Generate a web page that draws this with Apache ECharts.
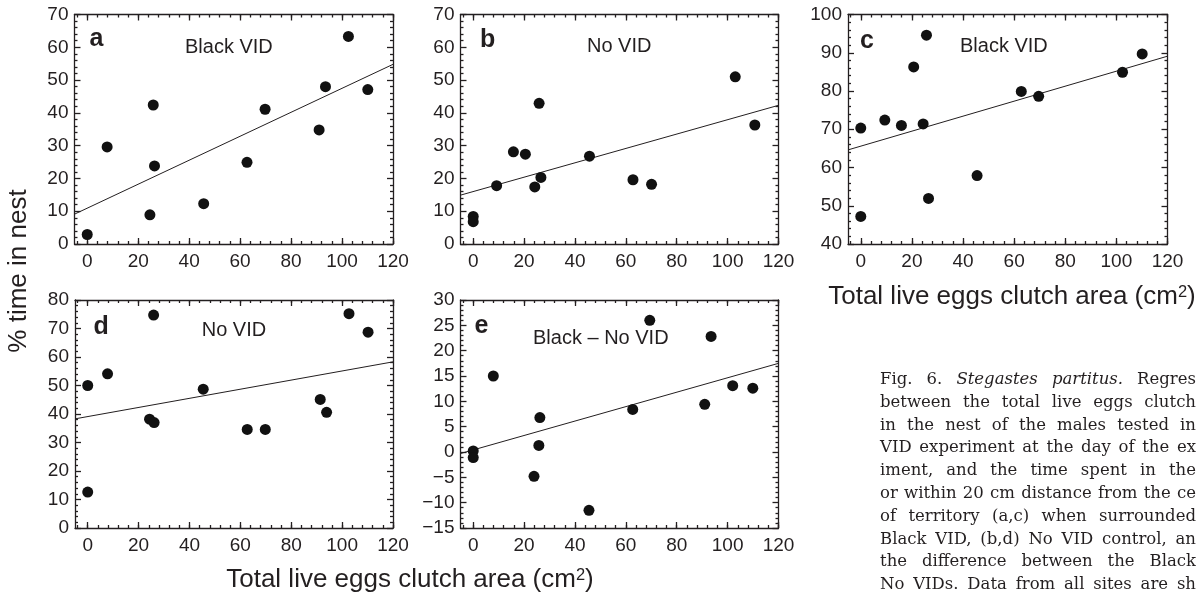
<!DOCTYPE html>
<html>
<head>
<meta charset="utf-8">
<title>Fig. 6 Stegastes partitus</title>
<script src="https://cdn.jsdelivr.net/npm/echarts@6.0.0/dist/echarts.min.js"></script>
<style>
  html, body { margin: 0; padding: 0; background: #fff; overflow: hidden; }
  #chart { width: 1196px; height: 598px; }
  #caption {
    position: absolute; left: 880px; top: 368px; width: 316px;
    font-family: 'DejaVu Serif', serif; font-size: 16.5px; color: #231f20;
  }
  #caption div { height: 22.8px; line-height: 22.8px; text-align: justify; text-align-last: justify; }
</style>
</head>
<body>
<div id="chart"></div>
<div id="caption">
  <div>Fig. 6. <i>Stegastes partitus.</i> Regres</div>
  <div>between the total live eggs clutch</div>
  <div>in the nest of the males tested in</div>
  <div>VID experiment at the day of the ex</div>
  <div>iment, and the time spent in the</div>
  <div>or within 20 cm distance from the ce</div>
  <div>of territory (a,c) when surrounded</div>
  <div>Black VID, (b,d) No VID control, an</div>
  <div>the difference between the Black</div>
  <div>No VIDs. Data from all sites are sh</div>
</div>
<script>
// clutch area (cm2) vs % time in nest
const aX = [0, 7.8, 24.6, 25.9, 26.4, 45.7, 62.7, 69.8, 91.0, 93.5, 102.5, 110.1]
const aY = [2.9, 29.6, 8.9, 42.4, 23.8, 12.3, 24.9, 41.1, 34.8, 48.0, 63.3, 47.1]
const aFit = [[-5, 9.1], [120, 54.8]]

const bX = [0, 0, 9.2, 15.8, 20.5, 24.2, 25.9, 26.6, 45.7, 62.8, 70.1, 103.0, 110.7]
const bY = [8.4, 6.8, 17.8, 28.1, 27.4, 17.4, 42.9, 20.3, 26.8, 19.6, 18.2, 51.0, 36.3]
const bFit = [[-5, 14.9], [120, 42.3]]

const cX = [0, 0, 9.4, 15.9, 20.7, 24.4, 25.7, 26.5, 45.5, 62.8, 69.6, 102.4, 110.1]
const cY = [70.3, 47.2, 72.4, 71.0, 86.3, 71.4, 94.6, 51.9, 57.9, 79.9, 78.6, 84.9, 89.7]
const cFit = [[-5, 64.6], [120, 89.1]]

const dX = [0, 0, 7.8, 24.3, 26.1, 25.9, 45.4, 62.7, 69.8, 91.4, 93.9, 102.7, 110.2]
const dY = [50.0, 12.6, 54.1, 38.2, 37.0, 74.7, 48.7, 34.6, 34.6, 45.1, 40.6, 75.2, 68.7]
const dFit = [[-5, 38.3], [120, 58.3]]

const eX = [0, 0, 7.9, 23.9, 25.8, 26.2, 45.5, 62.7, 69.4, 91.0, 93.5, 102.0, 109.9]
const eY = [0.2, -1.1, 15.0, -4.8, 1.3, 6.8, -11.5, 8.4, 26.0, 9.4, 22.8, 13.1, 12.6]
const eFit = [[-5, -0.3], [120, 17.5]]

const xTickLabels = [0, 20, 40, 60, 80, 100, 120]
const panelLetters = ['a', 'b', 'c', 'd', 'e']
const panelNames = ['Black VID', 'No VID', 'Black VID', 'No VID', 'Black \u2013 No VID']
const yRanges = [[0, 70, 10], [0, 70, 10], [40, 100, 10], [0, 80, 10], [-15, 30, 5]]

const INK = '#231f20'
const SANS = '"Liberation Sans", Arial, Helvetica, sans-serif'

// minor x ticks every 4 units
const xMinorTicks = []
for (let v = -4; v <= 120; v += 4) xMinorTicks.push(v)

const panels = [
  { xs: aX, ys: aY, fit: aFit, box: { left: 74.5, top: 14.5, width: 318.5, height: 229.5 }, letter: [89.5, 39.3], name: [185, 47] },
  { xs: bX, ys: bY, fit: bFit, box: { left: 460.5, top: 14.5, width: 318, height: 229.5 }, letter: [480, 40.6], name: [587, 46] },
  { xs: cX, ys: cY, fit: cFit, box: { left: 848, top: 14.5, width: 319.5, height: 229.5 }, letter: [860, 41.3], name: [960, 46.7] },
  { xs: dX, ys: dY, fit: dFit, box: { left: 75, top: 300, width: 318, height: 228 }, letter: [93.5, 327.3], name: [201.7, 330.7] },
  { xs: eX, ys: eY, fit: eFit, box: { left: 460.5, top: 300, width: 318, height: 228 }, letter: [474.5, 326.3], name: [533, 338.3] },
]

const line = { color: INK, width: 1.3 }
const grid = [], xAxis = [], yAxis = [], series = [], graphic = []

panels.forEach((p, i) => {
  grid.push({ ...p.box, outerBoundsMode: 'none' })

  const xBase = {
    gridIndex: i, type: 'value', min: -5, max: 120,
    splitLine: { show: false }, axisLine: { show: false, onZero: false },
    axisLabel: { show: false }, axisTick: { show: false },
  }
  const major = { show: true, inside: true, length: 6, customValues: xTickLabels, lineStyle: line }
  const minor = { show: true, inside: true, length: 3, customValues: xMinorTicks, lineStyle: line }
  xAxis.push(
    { ...xBase, position: 'bottom', axisLine: { show: true, onZero: false, lineStyle: line }, axisTick: major,
      axisLabel: { show: true, customValues: xTickLabels, color: INK, fontFamily: SANS, fontSize: 19, margin: 8 } },
    { ...xBase, position: 'bottom', axisTick: minor },
    { ...xBase, position: 'top', axisLine: { show: true, onZero: false, lineStyle: line }, axisTick: major },
    { ...xBase, position: 'top', axisTick: minor },
  )

  const [yMin, yMax, yStep] = yRanges[i]
  const yBase = {
    gridIndex: i, type: 'value', min: yMin, max: yMax, interval: yStep,
    splitLine: { show: false },
    axisLine: { show: true, onZero: false, lineStyle: line },
    axisTick: { show: true, inside: true, length: 6, lineStyle: line },
    minorTick: { show: true, splitNumber: 5, length: 3, lineStyle: line },
  }
  yAxis.push(
    { ...yBase, position: 'left', axisLabel: { color: INK, fontFamily: SANS, fontSize: 19, margin: 6,
      formatter: v => (v < 0 ? '\u2212' + Math.abs(v) : String(v)) } },
    { ...yBase, position: 'right', axisLabel: { show: false } },
  )

  series.push(
    { type: 'line', xAxisIndex: i * 4, yAxisIndex: i * 2, data: p.fit, showSymbol: false, silent: true,
      lineStyle: { color: INK, width: 1 }, z: 2 },
    { type: 'scatter', xAxisIndex: i * 4, yAxisIndex: i * 2, data: p.xs.map((x, k) => [x, p.ys[k]]),
      symbolSize: 11, itemStyle: { color: '#111', opacity: 1 }, silent: true, z: 3 },
  )

  graphic.push(
    { type: 'text', x: p.letter[0], y: p.letter[1],
      style: { text: panelLetters[i], fill: INK, font: 'bold 25px ' + SANS, align: 'left', verticalAlign: 'middle' } },
    { type: 'text', x: p.name[0], y: p.name[1],
      style: { text: panelNames[i], fill: INK, font: '20px ' + SANS, align: 'left', verticalAlign: 'middle' } },
  )
})

const xTitle = 'Total live eggs clutch area (cm{s|2})'
const titleRich = { s: { fontSize: 16.5, fontFamily: SANS, fill: INK, verticalAlign: 'top' } }
graphic.push(
  { type: 'text', x: 410, y: 580,
    style: { text: xTitle, rich: titleRich, fill: INK, fontSize: 26, fontFamily: SANS, align: 'center', verticalAlign: 'middle' } },
  { type: 'text', x: 1012, y: 297,
    style: { text: xTitle, rich: titleRich, fill: INK, fontSize: 26, fontFamily: SANS, align: 'center', verticalAlign: 'middle' } },
  { type: 'text', x: 19, y: 271, rotation: Math.PI / 2,
    style: { text: '% time in nest', fill: INK, fontSize: 26, fontFamily: SANS, align: 'center', verticalAlign: 'middle' } },
)

const chart = echarts.init(document.getElementById('chart'), null, { renderer: 'canvas' })
chart.setOption({
  animation: false,
  backgroundColor: '#ffffff',
  grid, xAxis, yAxis, series, graphic,
})
</script>
</body>
</html>
